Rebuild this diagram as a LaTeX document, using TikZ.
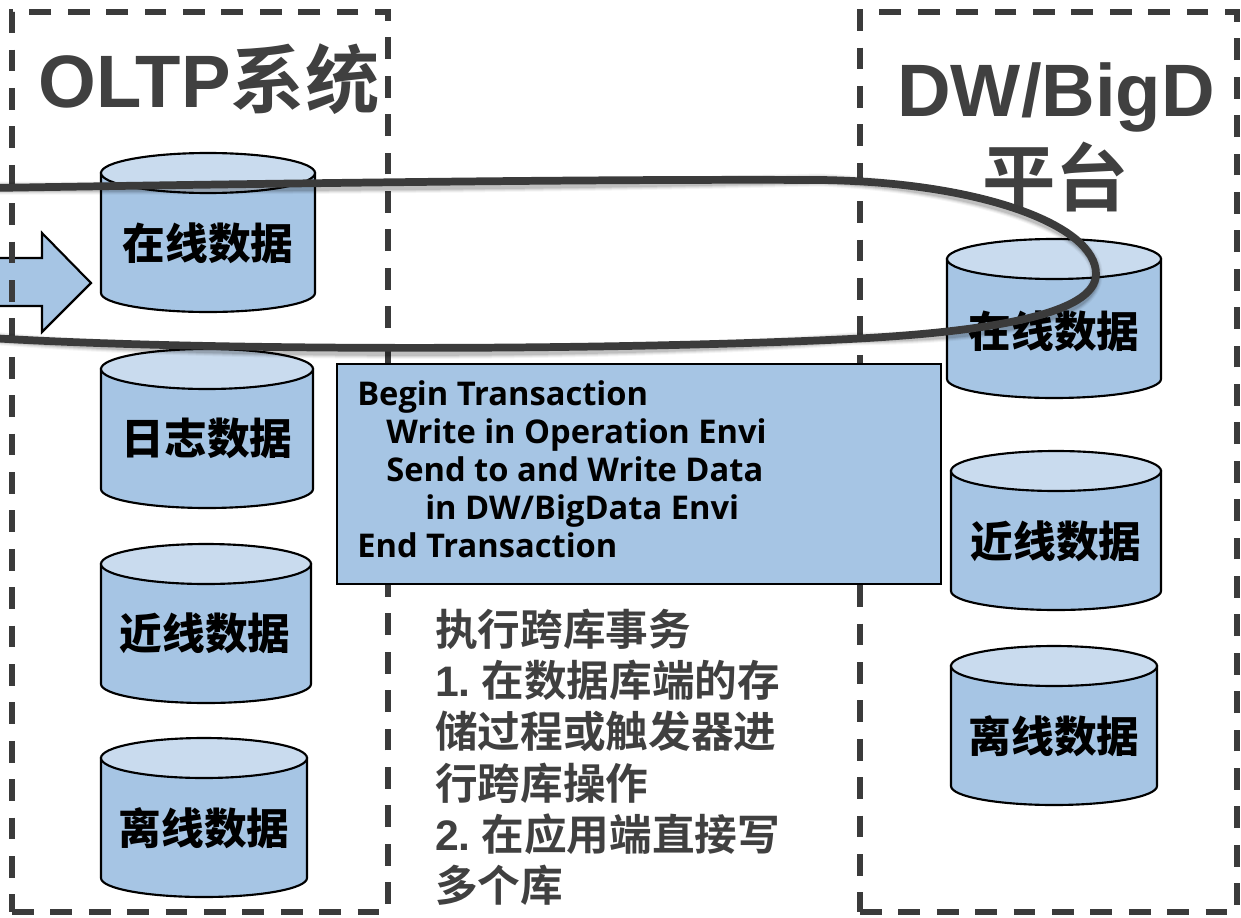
\documentclass[tikz,border=0pt]{standalone}
\usepackage{fontspec}
\setmainfont{Liberation Sans}
\newfontfamily\cjkf{Noto Sans CJK SC}[BoldFont={Noto Sans CJK SC Bold}]
\newfontfamily\cjkh{Noto Sans CJK SC Black}
\newfontfamily\latf{Open Sans}
\definecolor{fillblue}{HTML}{A6C5E4}
\definecolor{topblue}{HTML}{C9DBEE}
\definecolor{darkline}{HTML}{3B3B3B}
\definecolor{titlegray}{HTML}{404040}
\tikzset{
  cylbody/.style={draw=black,line width=1.6pt,fill=fillblue},
  cyltop/.style={draw=black,line width=1.6pt,fill=topblue},
  cyllabel/.style={font=\cjkh\fontsize{32pt}{36pt}\selectfont,text=black,inner sep=0pt},
  zonebox/.style={draw=darkline,line width=4pt,dash pattern=on 16.3pt off 12.5pt,outer sep=0pt},
  titletext/.style={font=\fontsize{55.7pt}{60pt}\selectfont\bfseries,text=titlegray,inner sep=0pt,anchor=base west},
  codeline/.style={font=\latf\bfseries\fontsize{24.5pt}{30pt}\selectfont,text=black,inner sep=0pt,anchor=base west},
  noteline/.style={font=\fontsize{32pt}{36pt}\selectfont\bfseries,text=titlegray,inner sep=0pt,anchor=base west},
  notecjk/.style={noteline,font=\cjkf\bfseries\fontsize{32pt}{36pt}\selectfont},
}
% x left, x right, y top, y bottom
\newcommand{\drum}[4]{%
  \pgfmathsetmacro{\rxv}{(#2-#1)/2}%
  \pgfmathsetmacro{\topc}{#3+20}%
  \pgfmathsetmacro{\botc}{#4-19}%
  \pgfmathsetmacro{\midx}{(#1+#2)/2}%
  \draw[cylbody] (#1,\topc) -- (#1,\botc) arc[start angle=180,end angle=0,x radius=\rxv,y radius=19] -- (#2,\topc) -- cycle;
  \draw[cyltop] (\midx,\topc) ellipse[x radius=\rxv,y radius=20];
}
\begin{document}
\begin{tikzpicture}[x=0.75pt,y=-0.75pt]
\useasboundingbox (0,0) rectangle (1241,917);
\clip (0,0) rectangle (1241,917);
% arrow
\draw[cylbody] (-10,258) -- (42,258) -- (42,233) -- (91,283) -- (42,332) -- (42,306) -- (-10,306);
% zones
\node[zonebox,minimum width=282pt,minimum height=675pt,inner sep=0pt,anchor=north west] (oltpzone) at (12,12) {};
\node[zonebox,minimum width=282.75pt,minimum height=675pt,inner sep=0pt,anchor=north west] (dwzone) at (860,12) {};
% titles
\node[titletext] (oltptitle) at (38,108) {OLTP{\cjkf 系统}};
\node[titletext] (dwtitle) at (897,116) {DW/BigD};
\node[titletext,font=\cjkf\bfseries\fontsize{55pt}{60pt}\selectfont] (dwtitleb) at (982,205) {平台};
% cylinders left
\drum{101}{315}{153}{312}
\node[cyllabel] (c1) at (208,243) {在线数据};
\drum{101}{313}{349}{508}
\node[cyllabel] (c2) at (207,438) {日志数据};
\drum{101}{311}{544}{703}
\node[cyllabel] (c3) at (205,633) {近线数据};
\drum{101}{307}{738}{897}
\node[cyllabel] (c4) at (204,828) {离线数据};
% cylinders right
\drum{947}{1161}{239}{398}
\node[cyllabel] (c5) at (1054,331) {在线数据};
\drum{951}{1161}{451}{610}
\node[cyllabel] (c6) at (1056,541) {近线数据};
\drum{951}{1157}{646}{805}
\node[cyllabel] (c7) at (1054,736) {离线数据};
% code box
\node[draw=black,line width=1.1pt,fill=fillblue,minimum width=453pt,minimum height=165pt,inner sep=0pt,outer sep=0pt,anchor=north west] (codebox) at (337,364) {};
\node[codeline] (l1) at (357,405) {Begin Transaction};
\node[codeline] (l2) at (386,443) {Write in Operation Envi};
\node[codeline] (l3) at (386,481) {Send to and Write Data};
\node[codeline] (l4) at (425,519) {in DW/BigData Envi};
\node[codeline] (l5) at (357,557) {End Transaction};
% notes
\node[notecjk] (n1) at (435,645) {执行跨库事务};
\node[noteline] (n2) at (435,696) {1.\hspace{8pt}{\cjkf 在数据库端的存}};
\node[notecjk] (n3) at (435,747) {储过程或触发器进};
\node[notecjk] (n4) at (435,799) {行跨库操作};
\node[noteline] (n5) at (435,850) {2.\hspace{8pt}{\cjkf 在应用端直接写}};
\node[notecjk] (n6) at (435,901) {多个库};
% ring
\coordinate (ra) at (-10,188);
\coordinate (rb) at (820,180);
\coordinate (rc) at (1096,274);
\coordinate (rd) at (850,339);
\coordinate (re) at (-10,338);
\def\ringpath{(ra) .. controls (300,183) and (600,179) .. (rb) .. controls (980,182) and (1096,225) .. (rc) .. controls (1096,315) and (985,332) .. (rd) .. controls (600,351) and (200,351) .. (re)}
\foreach \w/\o in {13/0.04,11/0.06,9/0.08,7/0.1}{
  \draw[black,opacity=\o,line width=\w*0.75pt] [shift={(2,6)}] \ringpath;
}
\draw[darkline,line width=5.8pt] \ringpath;
\end{tikzpicture}
\end{document}
